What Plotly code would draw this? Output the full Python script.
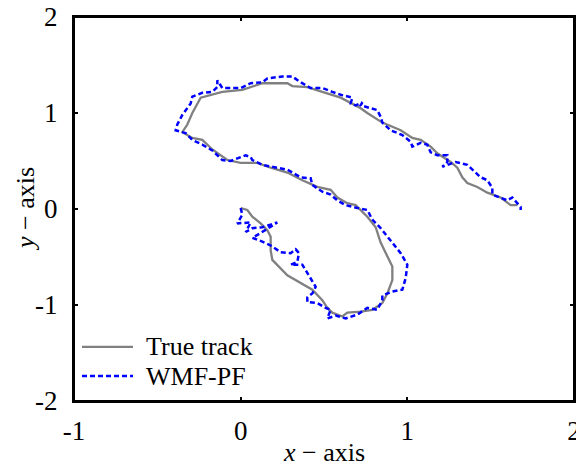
import plotly.graph_objects as go

# True track (data units)
true_x = [0.00, 0.04, 0.07, 0.12, 0.16, 0.18, 0.18, 0.19, 0.28, 0.36, 0.43, 0.49, 0.52, 0.55, 0.61, 0.64,
          0.72, 0.79, 0.85, 0.88, 0.91, 0.91, 0.87, 0.84, 0.81, 0.76, 0.69, 0.64, 0.58, 0.54, 0.46, 0.37,
          0.28, 0.18, 0.10, 0.00, -0.08, -0.17, -0.23, -0.29, -0.35, -0.32, -0.29, -0.24, -0.11, 0.01, 0.13,
          0.28, 0.31, 0.40, 0.49, 0.60, 0.72, 0.76, 0.85, 0.96, 1.03, 1.08, 1.14, 1.18, 1.26, 1.30,
          1.33, 1.36, 1.42, 1.48, 1.56, 1.62, 1.66]
true_y = [0.01, -0.01, -0.08, -0.15, -0.22, -0.29, -0.43, -0.53, -0.69, -0.77, -0.84, -0.95, -1.03, -1.08,
          -1.12, -1.08, -1.07, -1.05, -0.98, -0.88, -0.74, -0.60, -0.46, -0.35, -0.19, -0.08, 0.04, 0.06,
          0.12, 0.20, 0.23, 0.30, 0.38, 0.43, 0.48, 0.48, 0.51, 0.62, 0.72, 0.74, 0.80, 0.88, 1.00, 1.16, 1.22,
          1.24, 1.31, 1.31, 1.28, 1.27, 1.22, 1.16, 1.05, 1.00, 0.90, 0.82, 0.74, 0.72, 0.65, 0.58, 0.49,
          0.43, 0.33, 0.27, 0.23, 0.17, 0.12, 0.04, 0.04]

# WMF-PF estimate (data units)
pf_x = [0.00, 0.01, -0.02, 0.06, 0.03, 0.07, 0.13, 0.22, 0.12, 0.07, 0.13, 0.18, 0.24, 0.30, 0.33, 0.35,
        0.34, 0.30, 0.37, 0.40, 0.43, 0.45, 0.43, 0.40, 0.40, 0.46, 0.51, 0.54, 0.52, 0.57, 0.63, 0.70,
        0.76, 0.82, 0.85, 0.85, 0.91, 0.97, 0.99, 1.00, 0.96, 0.90, 0.84, 0.79, 0.76, 0.70, 0.63, 0.58,
        0.54, 0.49, 0.43, 0.42, 0.36, 0.28, 0.19, 0.13, 0.07, 0.06, 0.03, -0.02, -0.06, -0.11, -0.14,
        -0.17, -0.23, -0.29, -0.33, -0.39, -0.38, -0.35, -0.30, -0.29, -0.23, -0.17, -0.14, -0.14, -0.11,
        0.00, 0.06, 0.13, 0.16, 0.25, 0.31, 0.36, 0.42, 0.49, 0.55, 0.60, 0.67, 0.66, 0.69, 0.73, 0.72,
        0.78, 0.82, 0.84, 0.85, 0.90, 0.97, 1.02, 1.03, 1.08, 1.12, 1.14, 1.18, 1.24, 1.24, 1.21, 1.29,
        1.36, 1.39, 1.44, 1.48, 1.51, 1.51, 1.56, 1.60, 1.63, 1.68, 1.68]
pf_y = [0.01, -0.06, -0.15, -0.14, -0.24, -0.20, -0.19, -0.14, -0.25, -0.30, -0.34, -0.38, -0.45, -0.46,
        -0.42, -0.46, -0.55, -0.58, -0.58, -0.67, -0.76, -0.81, -0.88, -0.92, -0.97, -0.98, -1.03, -1.05,
        -1.14, -1.11, -1.14, -1.10, -1.03, -1.05, -0.95, -0.90, -0.86, -0.84, -0.72, -0.58, -0.46, -0.33,
        -0.20, -0.11, -0.01, 0.01, 0.04, 0.09, 0.15, 0.18, 0.25, 0.32, 0.33, 0.41, 0.44, 0.46, 0.51, 0.54,
        0.56, 0.53, 0.50, 0.51, 0.56, 0.61, 0.67, 0.72, 0.79, 0.82, 0.88, 0.98, 1.10, 1.17, 1.21, 1.22,
        1.27, 1.34, 1.26, 1.26, 1.31, 1.32, 1.36, 1.38, 1.38, 1.32, 1.26, 1.26, 1.22, 1.19, 1.16, 1.10,
        1.08, 1.11, 1.08, 1.05, 1.03, 0.96, 0.90, 0.82, 0.77, 0.70, 0.65, 0.69, 0.67, 0.59, 0.56, 0.56,
        0.49, 0.44, 0.49, 0.46, 0.41, 0.33, 0.30, 0.22, 0.15, 0.12, 0.09, 0.12, 0.02, -0.01]

x_ticks = [-1, 0, 1, 2]
y_ticks = [-2, -1, 0, 1, 2]
series_names = ["True track", "WMF-PF"]
x_title = "<i>x</i> − axis"
y_title = "<i>y</i> − axis"

FONT = "Liberation Serif, Times New Roman, serif"
GRAY = "#808080"
BLUE = "#0000FF"

fig = go.Figure()
fig.add_trace(go.Scatter(x=true_x, y=true_y, mode="lines", name=series_names[0],
                         showlegend=False, line=dict(color=GRAY, width=2.3)))
fig.add_trace(go.Scatter(x=pf_x, y=pf_y, mode="lines", name=series_names[1],
                         showlegend=False, line=dict(color=BLUE, width=2.5, dash="5px,3px")))

axis_common = dict(showline=True, linecolor="black", linewidth=2, mirror="ticks",
                   ticks="inside", ticklen=4, tickwidth=2, tickcolor="black",
                   showgrid=False, zeroline=False, automargin=False,
                   ticklabeloverflow="allow",
                   tickfont=dict(family=FONT, size=27, color="black"))

fig.update_xaxes(range=[-1, 2], tickvals=x_ticks, ticktext=[str(v) for v in x_ticks],
                 ticklabelstandoff=5, **axis_common)
fig.update_yaxes(range=[-2, 2], tickvals=y_ticks, ticktext=[str(v) for v in y_ticks],
                 ticklabelstandoff=9, **axis_common)

# Frame around the plot area (in case an axis line is hidden)
fig.add_shape(type="rect", xref="paper", yref="paper", x0=0, x1=1, y0=0, y1=1,
              line=dict(color="black", width=2), fillcolor="rgba(0,0,0,0)", layer="above")

# Axis titles
fig.add_annotation(text=x_title, xref="paper", yref="paper", x=0.5, y=-0.135,
                   xanchor="center", yanchor="middle", showarrow=False,
                   font=dict(family=FONT, size=26, color="black"))
fig.add_annotation(text=y_title, xref="paper", yref="paper", x=-0.098, y=0.5,
                   xanchor="center", yanchor="middle", textangle=-90, showarrow=False,
                   font=dict(family=FONT, size=26, color="black"))

# Legend drawn in the lower-left corner of the plot area (paper coordinates)
legend_rows_y = [0.141, 0.065]
legend_styles = [dict(color=GRAY, width=2.3), dict(color=BLUE, width=2.5, dash="5px,3px")]
for name, ry, st in zip(series_names, legend_rows_y, legend_styles):
    fig.add_shape(type="line", xref="paper", yref="paper", x0=0.016, x1=0.118, y0=ry, y1=ry,
                  line=st)
    fig.add_annotation(text=name, xref="paper", yref="paper", x=0.14, y=ry,
                       xanchor="left", yanchor="middle", showarrow=False,
                       font=dict(family=FONT, size=26, color="black"))

# The page places the figure 8px from the top-left corner; margins account for that.
fig.update_layout(
    width=584, height=465,
    margin=dict(l=66, r=18, t=9, b=72),
    plot_bgcolor="white", paper_bgcolor="white",
    font=dict(family=FONT, size=26, color="black"),
    showlegend=False,
)

fig.write_html("out.html")
